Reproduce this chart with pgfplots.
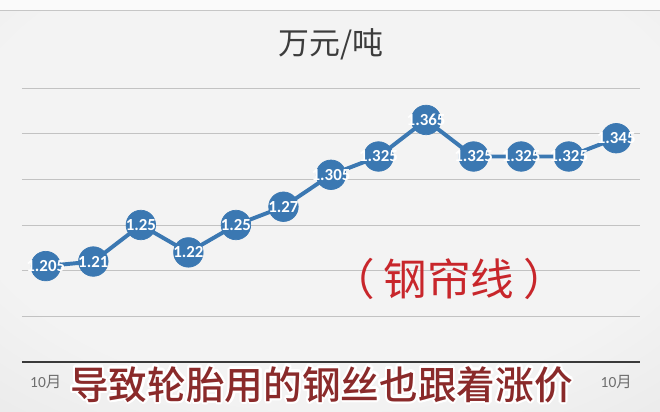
\documentclass[border=0pt]{standalone}
\usepackage{pgfplots}
\pgfplotsset{compat=1.18}
\usetikzlibrary{calc}
\usepackage{fontspec}
\setmainfont{Carlito}
\newfontfamily\cjk{Noto Sans CJK SC}
\newfontfamily\cjkmed[UprightFont={* Medium}]{Noto Sans CJK SC}
\definecolor{bgc}{HTML}{F3F3F3}
\definecolor{bgm}{HTML}{E2E2E2}
\definecolor{bge}{HTML}{BCBCBC}
\definecolor{mblue}{HTML}{3B78B2}
\definecolor{cred}{HTML}{C8262B}
\definecolor{dred}{HTML}{8A2A2A}
\definecolor{titlec}{HTML}{3C3C3C}
\definecolor{gridc}{HTML}{C2C2C2}
\definecolor{axisc}{HTML}{3A3A3A}
\definecolor{tickc}{HTML}{6E6E6E}
\pgfdeclareradialshading{bgshade}{\pgfpoint{0bp}{8bp}}{color(0bp)=(bgc); color(28bp)=(bgc); color(52bp)=(bgm); color(80bp)=(bge)}
\newcommand{\subtext}{\fontsize{27.5}{30}\selectfont\cjkmed 导致轮胎用的钢丝也跟着涨价}
\begin{document}
\begin{tikzpicture}
\path[use as bounding box] (0,0) rectangle (16.5cm,10.3cm);
\fill[shading=bgshade] (0,0) rectangle (16.5cm,10.3cm);
\fill[white!96!gray] (0,10.05cm) rectangle (16.5cm,10.3cm);
\draw[gray!45, line width=0.6pt] (0,10.05cm) -- (16.5cm,10.05cm);
\begin{axis}[
  at={(0.55cm,1.25cm)}, anchor=south west,
  scale only axis, width=15.45cm, height=6.85cm,
  xmin=-0.5, xmax=12.5, ymin=1.10, ymax=1.40,
  axis line style={draw=none},
  major tick length=0pt,
  ytick={1.15,1.20,1.25,1.30,1.35,1.40},
  yticklabels={},
  ymajorgrids,
  grid style={gridc, line width=0.7pt},
  extra y ticks={1.10},
  extra y tick labels={},
  extra y tick style={grid style={axisc, line width=1.4pt}},
  xtick={0,1,2,3,4,5,6,7,8,9,10,11,12},
  xticklabels={10{\cjk 月},,,,,,,,,,,,10{\cjk 月}},
  xticklabel style={font=\fontsize{11}{13}\selectfont, text=tickc, yshift=-6pt},
  clip=false,
]
\addplot[
  color=mblue, line width=2.8pt,
  mark=*, mark size=10.5pt,
  mark options={fill=mblue, draw=mblue, line width=0.5pt},
  point meta=explicit symbolic,
  nodes near coords,
  every node near coord/.append style={anchor=center, text=white, font=\bfseries\fontsize{12}{14}\selectfont, inner sep=0pt},
] coordinates {
  (0,1.205) [1.205]
  (1,1.21) [1.21]
  (2,1.25) [1.25]
  (3,1.22) [1.22]
  (4,1.25) [1.25]
  (5,1.27) [1.27]
  (6,1.305) [1.305]
  (7,1.325) [1.325]
  (8,1.365) [1.365]
  (9,1.325) [1.325]
  (10,1.325) [1.325]
  (11,1.325) [1.325]
  (12,1.345) [1.345]
};
\end{axis}
\node[text=titlec, font=\cjk\fontsize{22}{25}\selectfont] at (8.275cm,9.2cm) {万元/吨};
\node[text=cred, font=\cjk\fontsize{31}{34}\selectfont] at (11.225cm,3.33cm) {（\hspace{0.2em}钢帘线\hspace{0.2em}）};
\foreach \a in {0,22.5,...,337.5} {
  \node[text=white] at ($(8.04cm,0.69cm)+(\a:1.6pt)$) {\subtext};
}
\node[text=dred] at (8.04cm,0.69cm) {\subtext};
\end{tikzpicture}
\end{document}
